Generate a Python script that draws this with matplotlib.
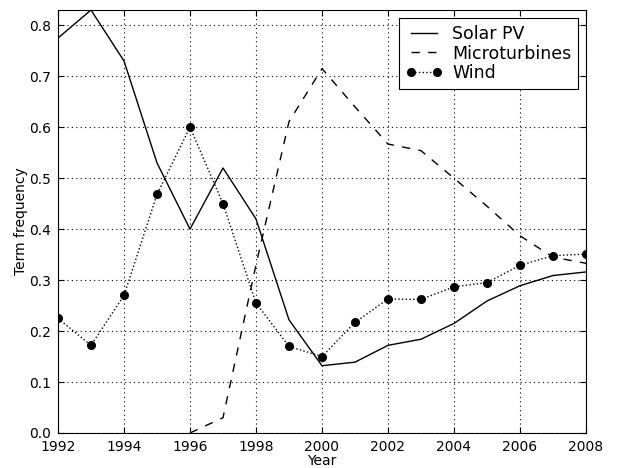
import matplotlib
matplotlib.use("Agg")
from matplotlib import pyplot as plt

years = list(range(1992, 2009))
solar = [0.775, 0.83, 0.73, 0.53, 0.40, 0.52, 0.42, 0.222, 0.132, 0.139, 0.172,
         0.184, 0.215, 0.259, 0.289, 0.309, 0.316]
micro_years = list(range(1996, 2009))
micro = [0.0, 0.03, 0.33, 0.611, 0.715, 0.64, 0.567, 0.554, 0.50, 0.445, 0.387,
         0.345, 0.333]
wind = [0.225, 0.172, 0.27, 0.468, 0.60, 0.45, 0.255, 0.17, 0.15, 0.217, 0.263,
        0.262, 0.287, 0.295, 0.329, 0.348, 0.351]

def main():
    fig = plt.figure(figsize=(6.27, 4.68), dpi=100)
    ax = fig.add_axes([0.0925, 0.0748, 0.8421, 0.9038])

    ax.plot(years, solar, 'k-', lw=1.0, label='Solar PV')
    ax.plot(micro_years, micro, 'k--', lw=1.0, label='Microturbines', dashes=(6, 6))
    ax.plot(years, wind, 'k:', lw=1.0, marker='o', ms=5.5, label='Wind')

    ax.set_xlim(1992, 2008)
    ax.set_ylim(0, 0.83)
    ax.set_xticks(range(1992, 2009, 2))
    ax.set_yticks([0.0, 0.1, 0.2, 0.3, 0.4, 0.5, 0.6, 0.7, 0.8])
    ax.set_yticklabels(['0.0', '0.1', '0.2', '0.3', '0.4', '0.5', '0.6', '0.7', '0.8'])
    ax.tick_params(direction='in', top=True, right=True, labelsize=10, length=4, pad=5)
    ax.grid(True, color='k', linestyle=(0, (1, 3)), linewidth=0.8)
    ax.set_xlabel('Year', fontsize=10, labelpad=0)
    ax.set_ylabel('Term frequency', fontsize=10, labelpad=1)

    leg = ax.legend(loc='upper right', fontsize=12.5, fancybox=False, framealpha=1,
                    edgecolor='k', borderaxespad=0.45, handlelength=2.1,
                    handletextpad=0.55, labelspacing=0.1, borderpad=0.4, numpoints=2)
    leg.get_frame().set_linewidth(0.8)

    fig.savefig('out.png', dpi=100)

main()
